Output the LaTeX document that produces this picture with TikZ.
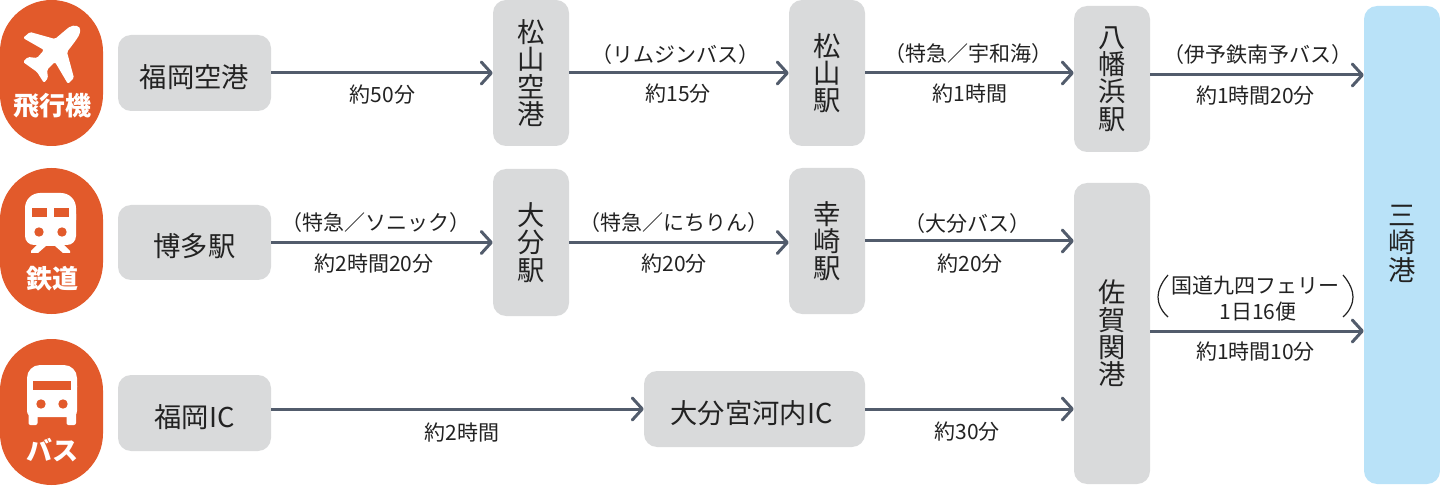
\documentclass[tikz,border=0pt]{standalone}
\usepackage{fontspec}
\setmainfont{Noto Sans CJK JP}
\usetikzlibrary{arrows.meta,calc}
\definecolor{boxgray}{HTML}{D9DADB}
\definecolor{portblue}{HTML}{B9E2F8}
\definecolor{pillred}{HTML}{E25A2B}
\definecolor{arrowgray}{HTML}{525C6C}
\definecolor{inkdark}{HTML}{222222}
\newcommand{\boxfont}{\fontsize{27.3}{27.3}\selectfont}
\newcommand{\lblfont}{\fontsize{21}{25}\selectfont}
\newcommand{\pillfont}{\fontsize{26}{26}\selectfont\bfseries}
\tikzset{
  x=1pt,y=-1pt,
  stop/.style={fill=boxgray,rounded corners=13pt,inner sep=0pt,text=inkdark,align=center,font=\boxfont,minimum width=#1,execute at begin node={\rule{0pt}{31pt}}},
  stop/.default=76pt,
  arr/.style={draw=arrowgray,line width=3pt,-{Straight Barb[length=10pt,width=22pt,line width=3pt,round]}},
  lbl/.style={text=inkdark,font=\lblfont,inner sep=0pt,align=center,yshift=-1pt},
  pill/.style={fill=pillred,rounded corners=51.5pt},
  pilltext/.style={text=white,font=\pillfont,inner sep=0pt},
  icon/.style={fill=white,draw=none},
  cut/.style={fill=pillred,draw=none},
}
\begin{document}
\begin{tikzpicture}
\useasboundingbox (0,0) rectangle (1440,486);
% mode pills
\fill[pill] (0,0) rectangle (103,146);
\fill[pill] (0,168) rectangle (103,314);
\fill[pill] (0,339) rectangle (103,485);
% plane
\fill[icon,rounded corners=1.5pt] (23,38) -- (30,32) -- (55,39) -- (68,28)
  .. controls (74,24) and (81,26) .. (80,32) .. controls (79,36) and (77,39) .. (67,52)
  -- (74,78) -- (68,84) -- (55,62) -- (47,70) -- (48,78) -- (44,83) -- (37,72) -- (23,62) -- (28,57) -- (37,58) -- (44,50) -- cycle;
% train
\fill[icon,rounded corners=15pt] (25,193) rectangle (76,235);
\fill[icon,rounded corners=9pt] (25,205) rectangle (76,245);
\fill[cut] (32,208) rectangle (47,217);
\fill[cut] (54,208) rectangle (69,217);
\fill[cut] (39,232) circle (4.7);
\fill[cut] (62,232) circle (4.7);
\fill[icon] (38,244) -- (31,251) -- (31,253) -- (38,253) -- (46,246) -- (55,246) -- (63,253) -- (70,253) -- (70,251) -- (63,244) -- cycle;
% bus
\fill[icon,rounded corners=13pt] (27,365) rectangle (77,400);
\fill[icon,rounded corners=6pt] (27,380) rectangle (77,417);
\fill[icon,rounded corners=2pt] (28.5,410) rectangle (37.5,425);
\fill[icon,rounded corners=2pt] (66.5,410) rectangle (76,425);
\fill[cut] (33,381) rectangle (71,390);
\fill[cut] (41,404) circle (4.7);
\fill[cut] (63,404) circle (4.7);
% pill labels
\node[pilltext] (tplane) at (52,106) {飛行機};
\node[pilltext] (ttrain) at (52,279) {鉄道};
\node[pilltext] (tbus) at (52,450) {バス};
% stops
\node[stop=153pt,minimum height=76pt] (fuk) at (194.5,73) {福岡空港};
\node[stop,minimum height=146pt] (myj) at (531,73) {松\\山\\空\\港};
\node[stop,minimum height=146pt] (mat) at (827,73) {松\\山\\駅};
\node[stop,minimum height=146pt] (yaw) at (1112,79) {八\\幡\\浜\\駅};
\node[fill=portblue,rounded corners=13pt,inner sep=0pt,minimum width=76pt,minimum height=478pt] (msk) at (1402,245) {};
\node[text=inkdark,font=\boxfont,align=center,inner sep=0pt,anchor=north] (mskname) at (1402,205) {三\\崎\\港};
\node[stop=153pt,minimum height=75pt] (hak) at (194.5,242.5) {博多駅};
\node[stop,minimum height=147pt] (oit) at (531,242.5) {大\\分\\駅};
\node[stop,minimum height=146pt] (kos) at (827,241) {幸\\崎\\駅};
\node[stop,minimum height=301pt] (sag) at (1112,333.5) {佐\\賀\\関\\港};
\node[stop=153pt,minimum height=76pt] (fic) at (194.5,413) {福岡IC};
\node[stop=221pt,minimum height=76pt,text width=215pt] (omi) at (754.5,409) {\hspace*{-6pt}大分宮河内IC};
% connectors
\draw[arr] (fuk.east) -- (fuk.east -| myj.west);
\draw[arr] (myj.east) -- (mat.west);
\draw[arr] (mat.east) -- (mat.east -| yaw.west);
\draw[arr] (yaw.east |- 0,75) -- (msk.west |- 0,75);
\draw[arr] (hak.east) -- (oit.west);
\draw[arr] (oit.east) -- (oit.east -| kos.west);
\draw[arr] (kos.east) -- (kos.east -| sag.west);
\draw[arr] (fic.east |- 0,409) -- (omi.west);
\draw[arr] (omi.east) -- (omi.east -| sag.west);
\draw[arr] (sag.east |- 0,331) -- (msk.west |- 0,331);
% labels
\node[lbl] (l1) at (382.5,94) {約50分};
\node[lbl] (l2) at (675,54) {（リムジンバス）};
\node[lbl] (l3) at (678,93) {約15分};
\node[lbl] (l4) at (968,53) {（特急／宇和海）};
\node[lbl] (l5) at (970,93) {約1時間};
\node[lbl] (l6) at (1258,54) {（伊予鉄南予バス）};
\node[lbl] (l7) at (1255.5,95) {約1時間20分};
\node[lbl] (l8) at (376,222) {（特急／ソニック）};
\node[lbl] (l9) at (374,263) {約2時間20分};
\node[lbl] (l10) at (674,222) {（特急／にちりん）};
\node[lbl] (l11) at (674,263) {約20分};
\node[lbl] (l12) at (967,223) {（大分バス）};
\node[lbl] (l13) at (970,263) {約20分};
\node[lbl] (l14) at (462,432) {約2時間};
\node[lbl] (l15) at (967,431) {約30分};
\node[lbl] (l16) at (1255.5,285) {国道九四フェリー};
\node[lbl] (l17) at (1258,311) {1日16便};
\node[lbl] (l18) at (1255.5,351) {約1時間10分};
\draw[inkdark,line width=1.2pt] (1168,275) .. controls (1161,283) and (1158,291) .. (1158,297) .. controls (1158,303) and (1161,311) .. (1168,317);
\draw[inkdark,line width=1.2pt] (1343,275) .. controls (1350,283) and (1353,291) .. (1353,297) .. controls (1353,303) and (1350,311) .. (1343,317);
\end{tikzpicture}
\end{document}
